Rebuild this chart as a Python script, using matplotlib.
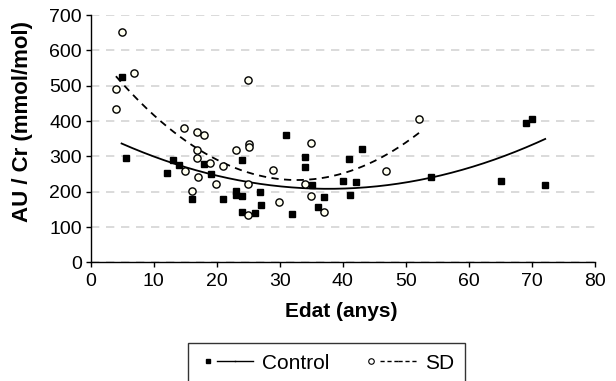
import numpy as np
import matplotlib
matplotlib.use("Agg")
import matplotlib.pyplot as plt
from matplotlib.lines import Line2D
from matplotlib.legend_handler import HandlerTuple

plt.rcParams['font.family'] = ['Liberation Sans', 'DejaVu Sans']

# Control (black squares)
control_age = [4.9, 5.6, 12.1, 13.0, 14.0, 16.1, 18.0, 19.1, 21.0, 23.0, 23.0, 24.0, 24.0,
               24.0, 26.0, 26.9, 27.0, 31.0, 31.9, 34.0, 34.0, 35.1, 36.0, 37.0, 40.0,
               41.0, 41.2, 42.1, 43.0, 54.0, 65.1, 69.0, 70.0, 72.1]
control_val = [525, 294, 252, 291, 275, 180, 278, 249, 180, 202, 192, 291, 187,
               144, 141, 198, 163, 360, 138, 297, 269, 220, 156, 184, 229,
               292, 190, 227, 320, 241, 229, 394, 405, 220]

# SD (open circles)
sd_age = [5.0, 6.9, 4.0, 4.0, 24.9, 14.8, 16.9, 18.0, 16.9, 16.9, 19.0, 21.0, 14.9, 17.0,
          16.0, 19.9, 23.0, 25.1, 25.1, 25.0, 24.9, 28.9, 29.9, 34.9, 34.0, 35.0, 37.0,
          46.9, 52.1]
sd_val = [653, 537, 491, 434, 515, 380, 368, 360, 317, 294, 281, 273, 260, 243,
          202, 222, 317, 336, 326, 221, 135, 262, 172, 339, 222, 188, 142,
          258, 407]

fig = plt.figure(figsize=(6.16, 3.81), dpi=100)
ax = fig.add_axes([90.7 / 616, 1 - 262.4 / 381, (595 - 90.7) / 616, (262.4 - 15) / 381])

ax.set_xlim(0, 80)
ax.set_ylim(0, 700)
ax.set_xticks(range(0, 81, 10))
ax.set_yticks(range(0, 701, 100))
ax.yaxis.grid(True, color='#d4d4d4', linestyle=(0, (5, 4)), linewidth=1.2)
ax.set_axisbelow(True)
for s in ['top', 'right']:
    ax.spines[s].set_visible(False)
for s in ['left', 'bottom']:
    ax.spines[s].set_linewidth(1.0)
ax.tick_params(direction='out', length=3.8, width=1.0, labelsize=14)
ax.tick_params(axis='x', pad=3.5)
ax.tick_params(axis='y', pad=2.5)

# quadratic trend lines
cx = np.array(control_age)
sx = np.array(sd_age)
c_fit = np.polyfit(cx, control_val, 2)
s_fit = np.polyfit(sx, sd_val, 2)
xc = np.linspace(cx.min(), cx.max(), 200)
xs = np.linspace(sx.min(), sx.max(), 200)
ax.plot(xc, np.polyval(c_fit, xc), color='black', linewidth=1.3, zorder=2)
ax.plot(xs, np.polyval(s_fit, xs), color='black', linewidth=1.3, linestyle=(0, (4, 3)), zorder=2)

ax.plot(control_age, control_val, linestyle='none', marker='s', markersize=4,
        color='black', zorder=3)
ax.plot(sd_age, sd_val, linestyle='none', marker='o', markersize=5.2,
        markerfacecolor='#fffff0', markeredgecolor='black', markeredgewidth=1.0, zorder=3)

ax.set_xlabel("Edat (anys)", fontsize=15, fontweight='bold')
ax.set_ylabel("AU / Cr (mmol/mol)", fontsize=16, fontweight='bold')
ax.xaxis.set_label_coords(0.496, -0.16)
ax.yaxis.set_label_coords(-0.114, 0.57)

# legend: marker, then line
m_c = Line2D([], [], linestyle='none', marker='s', markersize=3, color='black')
l_c = Line2D([], [], color='black', linewidth=1.0)
m_s = Line2D([], [], linestyle='none', marker='o', markersize=4,
             markerfacecolor='white', markeredgecolor='black', markeredgewidth=0.8)
l_s = Line2D([], [], color='black', linewidth=1.0, linestyle=(0, (3, 2)))
leg = fig.legend([(m_c, l_c, l_c), (m_s, l_s, l_s)], ["Control", "SD"],
                 handler_map={tuple: HandlerTuple(ndivide=None, pad=0)},
                 loc='upper left', bbox_to_anchor=(188.3 / 616, 1 - 343.3 / 381),
                 ncol=2, fontsize=15, frameon=True, fancybox=False,
                 handlelength=2.6, handletextpad=0.42, columnspacing=1.6,
                 borderpad=0.5, borderaxespad=0)
leg.get_frame().set_edgecolor('black')
leg.get_frame().set_linewidth(1.0)

fig.savefig("out.png", dpi=100)
